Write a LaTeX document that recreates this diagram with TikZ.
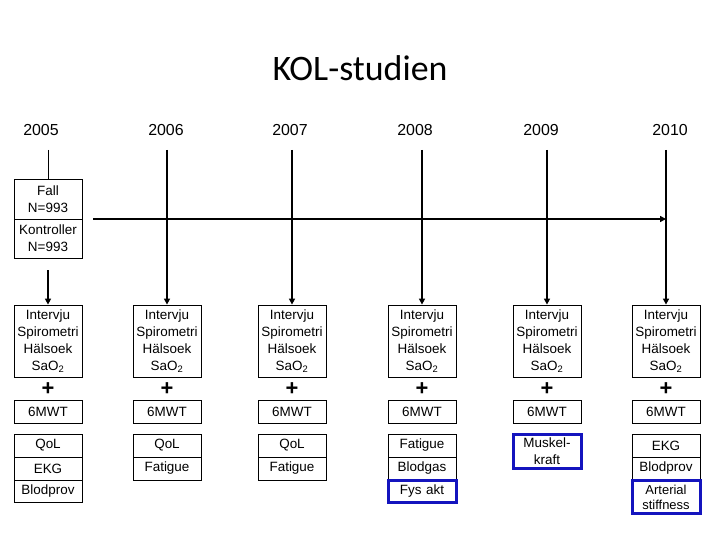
\documentclass[tikz,border=0pt]{standalone}
\usepackage{fontspec}
\setmainfont{Liberation Sans}
\newfontfamily\titlefont{Carlito}
\usetikzlibrary{arrows.meta}
\begin{document}
\begin{tikzpicture}[x=1bp,y=-1bp,
  box/.style={draw,line width=0.8bp,minimum width=68bp,text width=68bp,inner sep=0pt,align=center,font=\fontsize{13.5}{17}\selectfont},
  blue box/.style={box,draw={rgb,255:red,20;green,20;blue,190},line width=3bp},
  yr/.style={font=\fontsize{16}{18}\selectfont},
  arr/.style={line width=1.5bp,-{Triangle[length=6bp,width=6bp]}},
  plus/.style={font=\fontsize{22}{22}\bfseries\selectfont,inner sep=0pt}]
\useasboundingbox (0,0) rectangle (720,540);
\node[font=\titlefont\fontsize{36}{40}\selectfont] (title) at (360,68) {KOL-studien};
% years
\foreach \n/\x/\y in {y5/41/2005,y6/166/2006,y7/290/2007,y8/415/2008,y9/541/2009,y10/670/2010}
  \node[yr] (\n) at (\x,130) {\y};
% cohort
\node[box,minimum height=40bp] (fall) at (48,199) {Fall\\N=993};
\node[box,minimum height=39bp] (kont) at (48,238.5) {Kontroller\\N=993};
\coordinate (t5) at (48,150);
\draw[line width=0.8bp] (t5) -- (fall.north);
\coordinate (hs) at (93,219);
\coordinate (he) at (666,219);
\draw[arr] (hs) -- (he);
\coordinate (k5) at (48,270);
% columns
\foreach \c/\x in {5/48,6/167,7/292,8/422,9/547,10/666}{
  \node[box,minimum height=72bp] (m\c) at (\x,341) {Intervju\\Spirometri\\Hälsoek\\SaO\textsubscript{2}};
  \node[plus] (p\c) at (\x,389) {+};
  \node[box,minimum height=23bp] (w\c) at (\x,411.5) {6MWT};
}
\draw[arr] (k5) -- (m5.north);
\foreach \c/\x in {6/167,7/292,8/422,9/547,10/666}{
  \coordinate (t\c) at (\x,150);
  \draw[arr] (t\c) -- (m\c.north);
}
% bottom rows
\node[box,minimum height=23bp] (a5) at (48,445.5) {QoL};
\node[box,minimum height=23bp] (b5) at (48,468.5) {EKG};
\node[box,minimum height=22bp] (c5) at (48,491) {Blodprov};
\node[box,minimum height=23bp] (a6) at (167,445.5) {QoL};
\node[box,minimum height=23bp] (b6) at (167,468.5) {Fatigue};
\node[box,minimum height=23bp] (a7) at (292,445.5) {QoL};
\node[box,minimum height=23bp] (b7) at (292,468.5) {Fatigue};
\node[box,minimum height=23bp] (a8) at (422,445.5) {Fatigue};
\node[box,minimum height=23bp] (b8) at (422,468.5) {Blodgas};
\node[blue box,minimum height=22bp] (c8) at (422,491) {Fys akt};
\node[blue box,minimum height=34bp,font=\fontsize{13.5}{17}\selectfont] (a9) at (547,451) {Muskel-\\kraft};
\node[box,minimum height=23bp] (a10) at (666,445.5) {EKG};
\node[box,minimum height=23bp] (b10) at (666,468.5) {Blodprov};
\node[blue box,minimum height=33bp,font=\fontsize{13}{15}\selectfont] (c10) at (666,497) {Arterial\\stiffness};
\end{tikzpicture}
\end{document}
